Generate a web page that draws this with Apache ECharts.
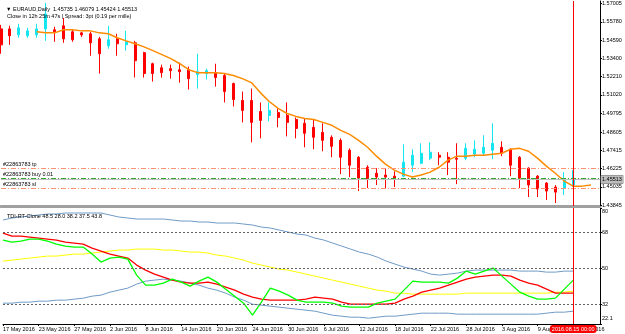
<!DOCTYPE html>
<html>
<head>
<meta charset="utf-8">
<script src="https://cdn.jsdelivr.net/npm/echarts@6/dist/echarts.min.js"></script>
<style>
  html, body { margin: 0; padding: 0; background: #fff; }
  #chart { width: 625px; height: 334px; }
</style>
</head>
<body>
<div id="chart"></div>
<script>
// trading days shown on the chart (last three are the empty shift area)
const dates = [
  '17 May 2016', '18 May 2016', '19 May 2016', '20 May 2016', '23 May 2016', '24 May 2016', '25 May 2016', '26 May 2016',
  '27 May 2016', '30 May 2016', '31 May 2016', '1 Jun 2016', '2 Jun 2016', '3 Jun 2016', '6 Jun 2016', '7 Jun 2016',
  '8 Jun 2016', '9 Jun 2016', '10 Jun 2016', '13 Jun 2016', '14 Jun 2016', '15 Jun 2016', '16 Jun 2016', '17 Jun 2016',
  '20 Jun 2016', '21 Jun 2016', '22 Jun 2016', '23 Jun 2016', '24 Jun 2016', '27 Jun 2016', '28 Jun 2016', '29 Jun 2016',
  '30 Jun 2016', '1 Jul 2016', '4 Jul 2016', '5 Jul 2016', '6 Jul 2016', '7 Jul 2016', '8 Jul 2016', '11 Jul 2016',
  '12 Jul 2016', '13 Jul 2016', '14 Jul 2016', '15 Jul 2016', '18 Jul 2016', '19 Jul 2016', '20 Jul 2016', '21 Jul 2016',
  '22 Jul 2016', '25 Jul 2016', '26 Jul 2016', '27 Jul 2016', '28 Jul 2016', '29 Jul 2016', '1 Aug 2016', '2 Aug 2016',
  '3 Aug 2016', '4 Aug 2016', '5 Aug 2016', '8 Aug 2016', '9 Aug 2016', '10 Aug 2016', '11 Aug 2016', '12 Aug 2016',
  '15 Aug 2016', '16 Aug 2016', '17 Aug 2016', '18 Aug 2016'
];

// EURAUD daily OHLC
const openP = [
  1.5532, 1.5532, 1.5493, 1.5487, 1.5493, 1.5532, 1.5526, 1.5552, 1.5513, 1.5506,
  1.5500, 1.5467, 1.5422, 1.5467, 1.5428, 1.5441, 1.5377, 1.5305, 1.5279, 1.5273,
  1.5266, 1.5266, 1.5234, 1.5241, 1.5247, 1.5228, 1.5176, 1.5066, 1.5066, 1.4994,
  1.4968, 1.4988, 1.4968, 1.4942, 1.4917, 1.4891, 1.4858, 1.4826, 1.4806, 1.4742,
  1.4696, 1.4631, 1.4592, 1.4580, 1.4573, 1.4573, 1.4644, 1.4657, 1.4690, 1.4709,
  1.4696, 1.4690, 1.4690, 1.4716, 1.4722, 1.4742, 1.4761, 1.4748, 1.4696, 1.4625,
  1.4573, 1.4528, 1.4502, 1.4495, 1.4515
];
const closeP = [
  1.5428, 1.5487, 1.5539, 1.5519, 1.5532, 1.5629, 1.5513, 1.5467, 1.5461, 1.5493,
  1.5441, 1.5370, 1.5461, 1.5435, 1.5448, 1.5325, 1.5241, 1.5241, 1.5247, 1.5260,
  1.5253, 1.5208, 1.5253, 1.5260, 1.5215, 1.5124, 1.5072, 1.5001, 1.4923, 1.4936,
  1.5001, 1.4955, 1.4923, 1.4884, 1.4852, 1.4826, 1.4806, 1.4767, 1.4696, 1.4644,
  1.4560, 1.4554, 1.4567, 1.4567, 1.4560, 1.4664, 1.4709, 1.4722, 1.4729, 1.4696,
  1.4664, 1.4683, 1.4754, 1.4748, 1.4761, 1.4787, 1.4722, 1.4644, 1.4560, 1.4515,
  1.4489, 1.4476, 1.4469, 1.4547, 1.4560
];
const lowP = [
  1.5370, 1.5428, 1.5474, 1.5474, 1.5474, 1.5454, 1.5448, 1.5441, 1.5448, 1.5480,
  1.5357, 1.5241, 1.5403, 1.5357, 1.5390, 1.5215, 1.5215, 1.5189, 1.5215, 1.5208,
  1.5182, 1.5137, 1.5143, 1.5202, 1.5156, 1.5053, 1.5027, 1.4923, 1.4793, 1.4819,
  1.4929, 1.4891, 1.4832, 1.4819, 1.4761, 1.4748, 1.4735, 1.4696, 1.4586, 1.4567,
  1.4476, 1.4495, 1.4515, 1.4495, 1.4502, 1.4567, 1.4599, 1.4651, 1.4677, 1.4644,
  1.4580, 1.4521, 1.4677, 1.4696, 1.4709, 1.4683, 1.4703, 1.4573, 1.4495, 1.4437,
  1.4437, 1.4418, 1.4398, 1.4450, 1.4502
];
const highP = [
  1.5558, 1.5552, 1.5565, 1.5539, 1.5565, 1.5701, 1.5545, 1.5603, 1.5526, 1.5513,
  1.5513, 1.5480, 1.5552, 1.5500, 1.5519, 1.5454, 1.5383, 1.5312, 1.5299, 1.5299,
  1.5312, 1.5286, 1.5370, 1.5273, 1.5305, 1.5241, 1.5182, 1.5124, 1.5143, 1.5053,
  1.5053, 1.5014, 1.5053, 1.4955, 1.4949, 1.4942, 1.4917, 1.4839, 1.4819, 1.4754,
  1.4703, 1.4644, 1.4625, 1.4625, 1.4605, 1.4780, 1.4748, 1.4787, 1.4793, 1.4729,
  1.4729, 1.4787, 1.4787, 1.4806, 1.4839, 1.4917, 1.4800, 1.4754, 1.4703, 1.4631,
  1.4580, 1.4534, 1.4515, 1.4599, 1.4612
];

// shifted moving average (orange)
const maLine = [
  '-', '-', '-', '-', 1.5513, 1.5506, 1.5506, 1.5526, 1.5526, 1.5519,
  1.5519, 1.5506, 1.5500, 1.5474, 1.5454, 1.5435, 1.5415, 1.5390, 1.5364, 1.5338,
  1.5305, 1.5266, 1.5247, 1.5247, 1.5247, 1.5241, 1.5228, 1.5208, 1.5182, 1.5117,
  1.5059, 1.5014, 1.4981, 1.4962, 1.4949, 1.4942, 1.4923, 1.4904, 1.4871, 1.4845,
  1.4806, 1.4761, 1.4703, 1.4651, 1.4612, 1.4586, 1.4567, 1.4580, 1.4599, 1.4631,
  1.4677, 1.4703, 1.4703, 1.4709, 1.4709, 1.4716, 1.4722, 1.4748, 1.4754, 1.4735,
  1.4690, 1.4638, 1.4592, 1.4541, 1.4508, 1.4508, 1.4515
];

// order lines and bid
const tpPrice = 1.4625;
const buyPrice = 1.4558;
const slPrice = 1.4493;
const bidPrice = 1.45513;

// TDI indicator
const tdiGreen = [
  64, 63, 63.5, 64.5, 64.5, 63.5, 62, 61, 60.5, 60.5,
  57, 53, 55, 55.5, 54.5, 46.5, 41.5, 41.5, 42.5, 44.5,
  43, 41, 43.5, 45.5, 43, 39.5, 36, 32.5, 26.5, 33,
  40, 38.5, 36.5, 34, 33, 33, 33, 32.5, 31, 30.5,
  30.5, 30.5, 32.5, 33.5, 34.5, 39, 43.5, 43, 43, 43,
  42.5, 45, 48.5, 47, 48.5, 50, 46, 42, 38, 36,
  34.5, 34.5, 35, 39.5, 44
];
const tdiRed = [
  67.5, 66, 66, 65.5, 65, 64.5, 64, 63, 62.5, 62,
  60, 58.5, 57, 56, 55, 51.5, 49, 47, 45.5, 44,
  43, 42.5, 42.5, 43, 42, 40.5, 39, 37, 35.5, 34.5,
  34, 34, 34, 34, 34.5, 35.5, 35, 34.5, 33, 32,
  32, 32, 32, 32, 32.5, 34.5, 36, 38, 39, 40,
  41.5, 43, 44.5, 45.5, 46, 46.5, 46.5, 46, 44, 42.5,
  41.5, 39.5, 37.5, 37.5, 37.5
];
const tdiYellow = [
  53.5, 54, 54.5, 55, 55.5, 56, 56, 56.5, 57, 57,
  57.5, 58, 58.5, 59, 59, 59.5, 59.5, 59.5, 59, 59,
  58.5, 58, 58, 57.5, 56.5, 56, 55, 54, 52.5, 51.5,
  50.5, 49.5, 49, 48, 47, 46, 45, 44, 43, 42,
  41, 40, 39, 38.5, 37.5, 37.5, 37, 37, 37, 37,
  37, 37, 37.5, 37.5, 37.5, 37.5, 37.5, 37.5, 37.5, 37.5,
  37.5, 37.5, 38, 38, 38.5
];
const bandUpper = [
  74, 75, 75.5, 76, 76.5, 77, 77, 77.5, 77.5, 77.5,
  77.5, 77.5, 76.5, 75.5, 75, 74.5, 74.5, 74.5, 74.5, 74,
  73.5, 73.5, 73, 73, 72.5, 72.5, 72.5, 72, 71.5, 70.5,
  70, 69, 68, 67, 66.5, 65, 64, 62.5, 61, 59.5,
  58, 57, 55.5, 53.5, 52, 50.5, 49.5, 48.5, 47, 46.5,
  47, 47.5, 48.5, 49, 49, 49, 49, 49, 48.5, 48.5,
  48.5, 48, 48, 48.5, 48.5
];
const bandLower = [
  32.5, 32.5, 33, 33, 33.5, 33.5, 34, 34, 34.5, 35,
  36, 36.5, 38, 39, 40, 42, 43.5, 44, 44.5, 44,
  43.5, 42.5, 41.5, 40, 39, 37.5, 35.5, 34, 32, 31.5,
  31, 30.5, 30, 29.5, 29, 28.5, 27.5, 26.5, 26, 25.5,
  25.5, 25, 25.5, 26, 26, 26.5, 27, 27.5, 27.5, 27.5,
  27.5, 27, 27, 27, 27, 27, 27, 27, 27, 27,
  27, 27.5, 28, 28, 28.5
];
const tdiLevels = [68, 50, 32];

// axis labels
const priceTicks = [1.43845, 1.45035, 1.46225, 1.47415, 1.48605, 1.49795, 1.51020, 1.52210, 1.53400, 1.54590, 1.55780, 1.57005];
const tdiTicks = [22.1, 32, 50, 68, 80];
const cursorDate = '15 Aug 2016';
const cursorLabel = '2016.08.15 00:00';

const FONT = 'Liberation Sans, DejaVu Sans, sans-serif';
const FS = 5.5;
const BULL = '#14e6f0';
const BEAR = '#ff0000';
const dashDot = [5, 2, 1, 2];

const candles = openP.map((o, i) => [o, closeP[i], lowP[i], highP[i]]);
const cursorIndex = dates.indexOf(cursorDate);

const chart = echarts.init(document.getElementById('chart'));

function orderLine(price, text, color) {
  return {
    yAxis: price,
    lineStyle: { color: color, type: dashDot, width: 1 },
    label: {
      show: true, position: 'insideStartTop', distance: [2, 1],
      formatter: text, color: '#000', fontSize: FS, fontFamily: FONT
    }
  };
}

const option = {
  animation: false,
  backgroundColor: '#fff',
  title: [
    {
      text: '\u25BC EURAUD,Daily  1.45735 1.46079 1.45424 1.45513',
      left: 1, top: 1,
      textStyle: { fontSize: FS, fontWeight: 'normal', color: '#000', fontFamily: FONT }
    },
    {
      text: 'Close in 12h 25m 47s | Spread: 3pt (0.19 per mille)',
      left: 2, top: 8,
      textStyle: { fontSize: FS, fontWeight: 'normal', color: '#000', fontFamily: FONT }
    },
    {
      text: 'TDI-RT-Clone 48.5 28.0 38.2 37.5 43.8',
      left: 2, top: 208,
      textStyle: { fontSize: FS, fontWeight: 'normal', color: '#000', fontFamily: FONT }
    }
  ],
  grid: [
    { left: 1, right: 25, top: 0, height: 206 },
    { left: 1, right: 25, top: 208, height: 116 }
  ],
  xAxis: [
    {
      type: 'category', gridIndex: 0, data: dates, boundaryGap: false,
      axisLine: { lineStyle: { color: '#a0a0a0', width: 3 } },
      axisTick: { show: false }, axisLabel: { show: false }, splitLine: { show: false },
      axisPointer: {
        show: true, value: cursorIndex, status: 'show', snap: false, triggerTooltip: false,
        lineStyle: { color: '#ff0000', width: 1, type: 'solid' },
        label: { show: false }
      }
    },
    {
      type: 'category', gridIndex: 1, data: dates, boundaryGap: false,
      axisLine: { lineStyle: { color: '#000', width: 1 } },
      axisTick: { show: true, interval: 3, length: 2, lineStyle: { color: '#000' } },
      axisLabel: { interval: 3, align: 'left', margin: 2, fontSize: FS, color: '#000', fontFamily: FONT },
      splitLine: { show: false },
      axisPointer: {
        show: true, value: cursorIndex, status: 'show', snap: false, triggerTooltip: false,
        lineStyle: { color: '#ff0000', width: 1, type: 'solid' },
        label: {
          show: true, formatter: cursorLabel, backgroundColor: '#ff0000', color: '#fff',
          padding: [1, 2], margin: 1, fontSize: FS, fontFamily: FONT
        }
      }
    }
  ],
  yAxis: [
    {
      type: 'value', gridIndex: 0, position: 'right', min: 1.43786, max: 1.57135,
      axisLine: { show: true, lineStyle: { color: '#000' } },
      axisTick: { show: true, length: 2, customValues: priceTicks, lineStyle: { color: '#000' } },
      axisLabel: {
        customValues: priceTicks, margin: 2, fontSize: FS, color: '#000', fontFamily: FONT,
        formatter: v => v.toFixed(5)
      },
      splitLine: { show: false }
    },
    {
      type: 'value', gridIndex: 1, position: 'right', min: 22.1, max: 80,
      axisLine: { show: true, lineStyle: { color: '#000' } },
      axisTick: { show: true, length: 2, customValues: tdiTicks, lineStyle: { color: '#000' } },
      axisLabel: {
        customValues: tdiTicks, margin: 2, fontSize: FS, color: '#000', fontFamily: FONT,
        formatter: v => (v === 22.1 ? '{lo|22.1}' : v === 80 ? '{hi|80}' : String(v)),
        rich: {
          lo: { fontSize: FS, fontFamily: FONT, color: '#000', padding: [0, 0, 11, 0] },
          hi: { fontSize: FS, fontFamily: FONT, color: '#000', padding: [7, 0, 0, 0] }
        }
      },
      splitLine: { show: false }
    }
  ],
  series: [
    {
      name: 'Orders', type: 'line', xAxisIndex: 0, yAxisIndex: 0, data: [],
      symbol: 'none',
      markLine: {
        symbol: 'none', silent: true, animation: false, precision: 5,
        data: [
          {
            yAxis: bidPrice,
            lineStyle: { color: '#c0c0c0', type: 'solid', width: 1 },
            label: {
              show: true, position: 'end', distance: 1, formatter: bidPrice.toFixed(5),
              backgroundColor: '#bdbdbd', borderColor: '#707070', borderWidth: 0.5,
              padding: [1, 1], color: '#000', fontSize: FS, fontFamily: FONT
            }
          },
          orderLine(tpPrice, '#22863783 tp', '#ff9070'),
          orderLine(buyPrice, '#22863783 buy 0.01', '#2ea82e'),
          orderLine(slPrice, '#22863783 sl', '#ff9070')
        ]
      }
    },
    {
      name: 'EURAUD', type: 'candlestick', xAxisIndex: 0, yAxisIndex: 0,
      data: candles, barWidth: 2.5,
      itemStyle: { color: BULL, color0: BEAR, borderColor: BULL, borderColor0: BEAR, borderWidth: 1 }
    },
    {
      name: 'MA', type: 'line', xAxisIndex: 0, yAxisIndex: 0, data: maLine,
      symbol: 'none', lineStyle: { color: '#ff8c00', width: 1.5 }
    },
    {
      name: 'Upper band', type: 'line', xAxisIndex: 1, yAxisIndex: 1, data: bandUpper,
      symbol: 'none', lineStyle: { color: '#6f9bc6', width: 1 },
      markLine: {
        symbol: 'none', silent: true, animation: false, label: { show: false },
        lineStyle: { color: '#606060', type: [2, 2], width: 1 },
        data: tdiLevels.map(v => ({ yAxis: v }))
      }
    },
    {
      name: 'Lower band', type: 'line', xAxisIndex: 1, yAxisIndex: 1, data: bandLower,
      symbol: 'none', lineStyle: { color: '#6f9bc6', width: 1 }
    },
    {
      name: 'Market base', type: 'line', xAxisIndex: 1, yAxisIndex: 1, data: tdiYellow,
      symbol: 'none', lineStyle: { color: '#ffff00', width: 1 }
    },
    {
      name: 'Signal', type: 'line', xAxisIndex: 1, yAxisIndex: 1, data: tdiRed,
      symbol: 'none', lineStyle: { color: '#ff0000', width: 1.3 }
    },
    {
      name: 'RSI price', type: 'line', xAxisIndex: 1, yAxisIndex: 1, data: tdiGreen,
      symbol: 'none', lineStyle: { color: '#00ff00', width: 1.3 }
    }
  ]
};

chart.setOption(option);
window.addEventListener('resize', () => chart.resize());
</script>
</body>
</html>
